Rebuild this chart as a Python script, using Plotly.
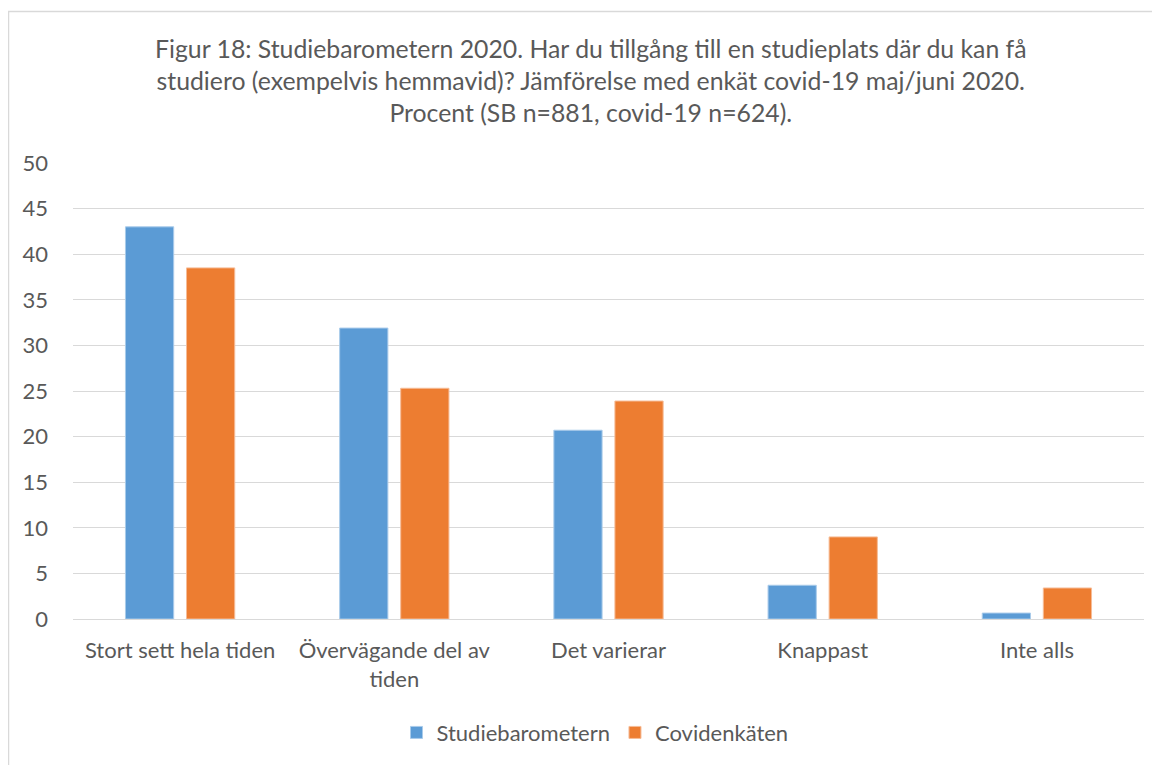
import plotly.graph_objects as go

categories = ["Stort sett hela tiden", "Övervägande del av<br>tiden", "Det varierar", "Knappast", "Inte alls"]
studiebarometern = [43.0, 31.9, 20.7, 3.7, 0.65]
covidenkaten = [38.5, 25.3, 23.9, 9.0, 3.4]
series_names = ["Studiebarometern", "Covidenkäten"]
y_ticks = [0, 5, 10, 15, 20, 25, 30, 35, 40, 45, 50]
title_text = ("Figur 18: Studiebarometern 2020. Har du tillgång till en studieplats där du kan få<br>"
              "studiero (exempelvis hemmavid)? Jämförelse med enkät covid-19 maj/juni 2020.<br>"
              "Procent (SB n=881, covid-19 n=624).")

FONT = "Lato"
TXT = "#595959"

# figure is offset 8px by page body margin
L, T = 65, 155
PW, PH = 1071, 457.3
W, H = 1152, 757

fig = go.Figure()
fig.add_trace(go.Bar(x=categories, y=studiebarometern, name=series_names[0],
                     marker=dict(color="#5B9BD5", line=dict(color="#A9CBEA", width=1))))
fig.add_trace(go.Bar(x=categories, y=covidenkaten, name=series_names[1],
                     marker=dict(color="#ED7D31", line=dict(color="#F6BC97", width=1))))

fig.update_layout(
    width=W, height=H,
    margin=dict(l=L, r=W - L - PW, t=T, b=H - T - PH),
    paper_bgcolor="white", plot_bgcolor="white",
    barmode="group", bargap=0.43, bargroupgap=0.21,
    font=dict(family=FONT, color=TXT, size=22),
    showlegend=True,
    legend=dict(orientation="h", x=(587 - L) / PW, xanchor="center",
                y=(T + PH - 725) / PH, yanchor="middle",
                font=dict(size=22, color=TXT), traceorder="normal"),
    xaxis=dict(showgrid=False, showline=False, ticks="", tickfont=dict(size=22, color=TXT),
               ticklabelstandoff=16),
    yaxis=dict(range=[0, 50], tickvals=y_ticks, showgrid=True, gridcolor="#D9D9D9", gridwidth=1,
               zeroline=True, zerolinecolor="#D9D9D9", zerolinewidth=1, showline=False, ticks="",
               tickfont=dict(size=22, color=TXT), ticklabelstandoff=24),
)

fig.add_annotation(text=title_text, xref="paper", yref="paper",
                   x=(583 - L) / PW, y=(T + PH - 24) / PH, xanchor="center", yanchor="top",
                   showarrow=False, font=dict(family=FONT, size=24.8, color=TXT), align="center")

fig.add_shape(type="rect", xref="paper", yref="paper",
              x0=(0.5 - L) / PW, x1=(1170 - L) / PW,
              y0=(T + PH - 790) / PH, y1=(T + PH - 3) / PH,
              line=dict(color="#D9D9D9", width=1.5), fillcolor="rgba(0,0,0,0)", layer="below")

fig.write_html("out.html")
